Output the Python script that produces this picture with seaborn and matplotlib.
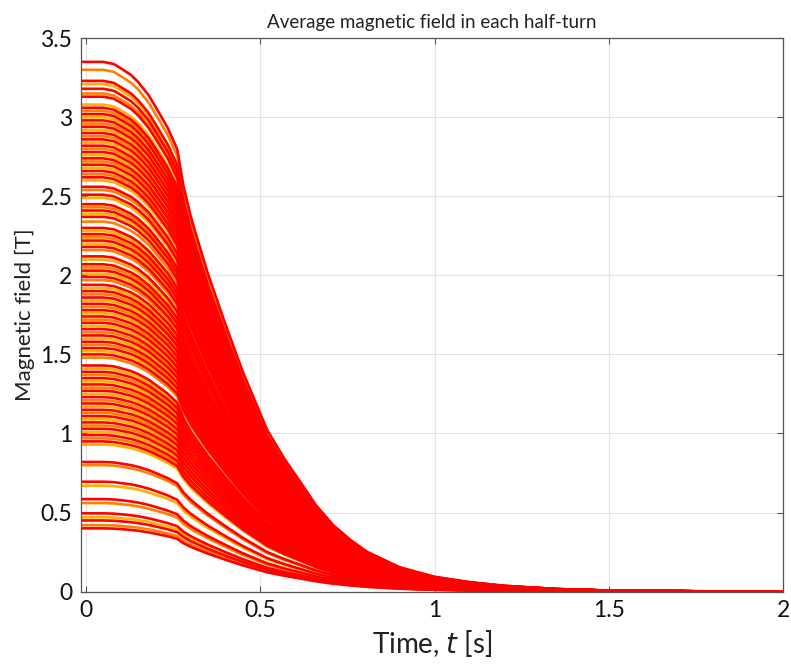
import numpy as np
import pandas as pd
import matplotlib
matplotlib.use("Agg")
import matplotlib.pyplot as plt
import seaborn as sns

# Initial average field of each half-turn [T] (read from the left edge)
b0_values = [
    3.35, 3.30, 3.23, 3.21, 3.18, 3.15, 3.13, 3.08, 3.06, 3.04, 3.02, 3.00,
    2.98, 2.96, 2.94, 2.92, 2.90, 2.88, 2.86, 2.84, 2.82, 2.80, 2.78, 2.76,
    2.74, 2.72, 2.70, 2.68, 2.66, 2.64, 2.62, 2.60, 2.56, 2.54, 2.51, 2.49,
    2.45, 2.43, 2.41, 2.39, 2.37, 2.34, 2.30, 2.28, 2.26, 2.24, 2.22, 2.20,
    2.18, 2.16, 2.12, 2.10, 2.07, 2.05, 2.03, 2.01, 1.99, 1.97, 1.94, 1.92,
    1.90, 1.88, 1.86, 1.84, 1.82, 1.80, 1.78, 1.76, 1.74, 1.72, 1.70, 1.68,
    1.66, 1.64, 1.62, 1.60, 1.58, 1.56, 1.54, 1.52, 1.50, 1.48, 1.43, 1.41,
    1.39, 1.37, 1.35, 1.33, 1.31, 1.29, 1.27, 1.25, 1.23, 1.21, 1.19, 1.17,
    1.15, 1.13, 1.11, 1.09, 1.07, 1.05, 1.03, 1.01, 0.99, 0.97, 0.95, 0.93,
    0.82, 0.80, 0.695, 0.67, 0.585, 0.56, 0.495, 0.47, 0.45, 0.42, 0.40,
]

# Normalised time profile of the field
time_s = [-0.02, 0.05, 0.08, 0.10, 0.13, 0.15, 0.18, 0.20, 0.235, 0.262,
          0.28, 0.30, 0.315, 0.35, 0.40, 0.45, 0.52, 0.57, 0.616, 0.66,
          0.71, 0.76, 0.807, 0.90, 1.00, 1.10, 1.20, 1.35, 1.50, 1.75, 2.00]
profile = [1.000, 1.000, 0.996, 0.988, 0.975, 0.962, 0.937, 0.915, 0.875, 0.835,
           0.765, 0.710, 0.676, 0.600, 0.505, 0.415, 0.305, 0.250, 0.206, 0.163,
           0.125, 0.097, 0.075, 0.046, 0.028, 0.018, 0.011, 0.005, 0.002, 0.0006, 0.0002]

line_colors = ["#ffb000", "#ff8000", "#ff3000", "#ff0000"]
color_cycle = [3, 1, 3, 0]

rows = []
for i, b0 in enumerate(b0_values):
    for t, p in zip(time_s, profile):
        rows.append({"t": t, "B": b0 * p, "line": i})
df = pd.DataFrame(rows)

col_idx = {i: color_cycle[i % 4] for i in range(len(b0_values))}
# draw order: yellow/orange first, red last (on top)
order = sorted(range(len(b0_values)), key=lambda i: (col_idx[i], i))
palette = {i: line_colors[col_idx[i]] for i in range(len(b0_values))}

sns.set_theme(style="white")
plt.rcParams["font.family"] = ["Lato", "DejaVu Sans"]

fig = plt.figure(figsize=(7.91, 6.70), dpi=100)
ax = fig.add_axes([0.102, 0.117, 0.888, 0.826])

sns.lineplot(data=df, x="t", y="B", hue="line", hue_order=order, palette=palette,
             estimator=None, legend=False, linewidth=1.9, ax=ax)

ax.set_xlim(-0.015, 2.0)
ax.set_ylim(0, 3.5)
ax.set_xticks([0, 0.5, 1, 1.5, 2])
ax.set_xticklabels(["0", "0.5", "1", "1.5", "2"])
ax.set_yticks([0, 0.5, 1, 1.5, 2, 2.5, 3, 3.5])
ax.set_yticklabels(["0", "0.5", "1", "1.5", "2", "2.5", "3", "3.5"])
ax.grid(True, color="#e3e3e3", linewidth=0.8)
ax.set_axisbelow(True)
for s in ax.spines.values():
    s.set_color("#555555")
    s.set_linewidth(0.9)
ax.tick_params(direction="in", length=4, width=0.8, colors="#555555",
               labelcolor="#111111", labelsize=16.5, pad=6,
               top=True, right=True, bottom=True, left=True)
ax.set_xlabel("Time, $\\it{t}$ [s]", fontsize=20, color="#222222", labelpad=5)
ax.set_ylabel("Magnetic field [T]", fontsize=16, color="#222222", labelpad=4)
ax.set_title("Average magnetic field in each half-turn", fontsize=13.5,
             color="#222222", pad=7)

fig.savefig("out.png", dpi=100)
